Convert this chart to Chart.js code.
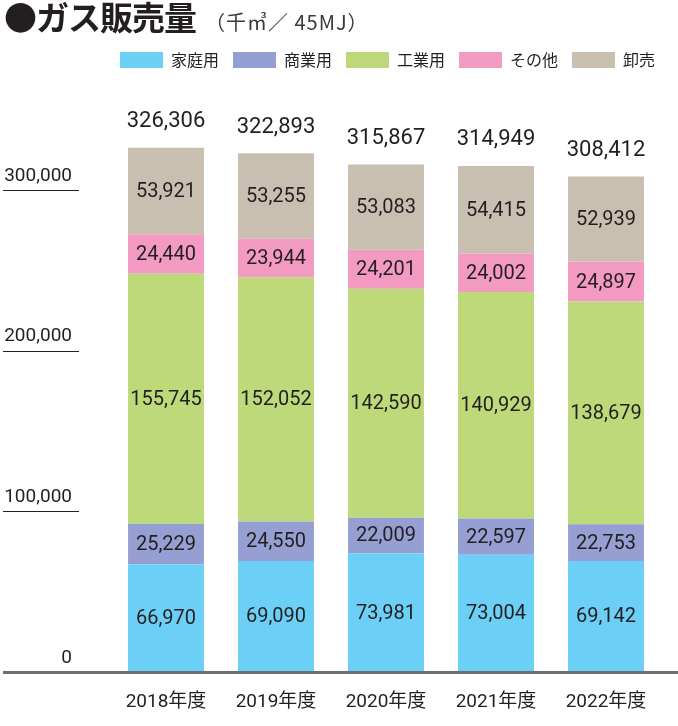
<!DOCTYPE html>
<html>
<head>
<meta charset="utf-8">
<script src="https://cdn.jsdelivr.net/npm/chart.js@4.4.1/dist/chart.umd.min.js"></script>
<style>
  html, body { margin: 0; padding: 0; background: #ffffff; }
  #wrap { position: relative; width: 678px; height: 726px; overflow: hidden; }
  #title { position: absolute; left: 4px; top: -8px; white-space: nowrap;
           font-family: "Noto Sans CJK JP", sans-serif; color: #231F20; }
  #title .main { font-size: 33px; font-weight: 700; letter-spacing: -1px; }
  #title .unit { font-size: 20px; font-weight: 400; color: #3a3a3a; margin-left: 9px; letter-spacing: 1px; }
  #c { position: absolute; left: 0; top: 0; }
</style>
</head>
<body>
<div id="wrap">
  <canvas id="c" width="678" height="726"></canvas>
  <div id="title"><span class="main">●ガス販売量</span><span class="unit">（千㎥／ 45MJ）</span></div>
</div>
<script>
const categories = ['2018年度', '2019年度', '2020年度', '2021年度', '2022年度'];
const seriesNames = ['家庭用', '商業用', '工業用', 'その他', '卸売'];
const household  = [66970, 69090, 73981, 73004, 69142];
const commercial = [25229, 24550, 22009, 22597, 22753];
const industrial = [155745, 152052, 142590, 140929, 138679];
const others     = [24440, 23944, 24201, 24002, 24897];
const wholesale  = [53921, 53255, 53083, 54415, 52939];
const totals     = [326306, 322893, 315867, 314949, 308412];
const yTicks     = [0, 100000, 200000, 300000];

const colors = ['#6CCFF6', '#959FD2', '#BDD97A', '#F39AC2', '#C9BFB0'];
const textColor = '#231F20';
const numFont = "Roboto, 'Noto Sans CJK JP', sans-serif";
const fmt = v => v.toLocaleString('en-US');

const seriesValues = [household, commercial, industrial, others, wholesale];

const segLabels = {
  id: 'segLabels',
  afterDatasetsDraw(chart) {
    const ctx = chart.ctx;
    ctx.save();
    ctx.fillStyle = textColor;
    ctx.textAlign = 'center';
    ctx.textBaseline = 'middle';
    ctx.font = "20px " + numFont;
    chart.data.datasets.forEach((ds, di) => {
      const meta = chart.getDatasetMeta(di);
      meta.data.forEach((el, i) => {
        const p = el.getProps(['x', 'y', 'base'], true);
        ctx.fillText(fmt(ds.data[i]), p.x, (p.y + p.base) / 2 + 1);
      });
    });
    const last = chart.getDatasetMeta(chart.data.datasets.length - 1);
    ctx.font = "22px " + numFont;
    last.data.forEach((el, i) => {
      const p = el.getProps(['x', 'y'], true);
      ctx.fillText(fmt(totals[i]), p.x, p.y - 26);
    });
    ctx.restore();
  }
};

const axisDecor = {
  id: 'axisDecor',
  afterLayout(chart) {
    if (chart.legend) { chart.legend.left += 8; chart.legend.right += 8; }
  },
  afterDraw(chart) {
    const ctx = chart.ctx;
    const y = chart.scales.y;
    ctx.save();
    ctx.strokeStyle = textColor;
    ctx.lineWidth = 1.2;
    y.ticks.forEach(t => {
      if (t.value === 0) return;
      const py = Math.round(y.getPixelForValue(t.value)) + 0.5;
      ctx.beginPath(); ctx.moveTo(3, py); ctx.lineTo(79, py); ctx.stroke();
    });
    const by = chart.chartArea.bottom + 0.5;
    ctx.strokeStyle = '#6D6E71';
    ctx.lineWidth = 3;
    ctx.beginPath(); ctx.moveTo(3, by); ctx.lineTo(678, by); ctx.stroke();
    ctx.restore();
  }
};

new Chart(document.getElementById('c'), {
  type: 'bar',
  data: {
    labels: categories,
    datasets: seriesNames.map((name, i) => ({
      label: name,
      data: seriesValues[i],
      backgroundColor: colors[i],
      borderWidth: 0,
      categoryPercentage: 1.0,
      barPercentage: 0.69
    }))
  },
  options: {
    responsive: false,
    animation: false,
    devicePixelRatio: 1,
    layout: { padding: { top: 38, left: 0, right: 17, bottom: 0 } },
    plugins: {
      legend: {
        display: true,
        position: 'top',
        align: 'end',
        labels: {
          boxWidth: 43, boxHeight: 16, padding: 14,
          color: textColor,
          font: { family: "'Noto Sans CJK JP', sans-serif", size: 16 }
        }
      },
      title: { display: false },
      tooltip: { enabled: false }
    },
    scales: {
      x: {
        stacked: true,
        grid: { display: false, drawTicks: false, tickLength: 0 },
        border: { display: false },
        afterFit(scale) { scale.height = 54; },
        ticks: {
          color: textColor, padding: 19,
          font: { family: numFont, size: 19 }
        }
      },
      y: {
        stacked: true,
        min: 0,
        max: 369700,
        grid: { display: false, drawTicks: false, tickLength: 0 },
        border: { display: false },
        afterFit(scale) { scale.width = 111; },
        afterBuildTicks(scale) { scale.ticks = yTicks.map(v => ({ value: v })); },
        ticks: {
          color: textColor, padding: 39, labelOffset: -14,
          font: { family: numFont, size: 19 },
          callback: v => fmt(v)
        }
      }
    }
  },
  plugins: [segLabels, axisDecor]
});
</script>
</body>
</html>
